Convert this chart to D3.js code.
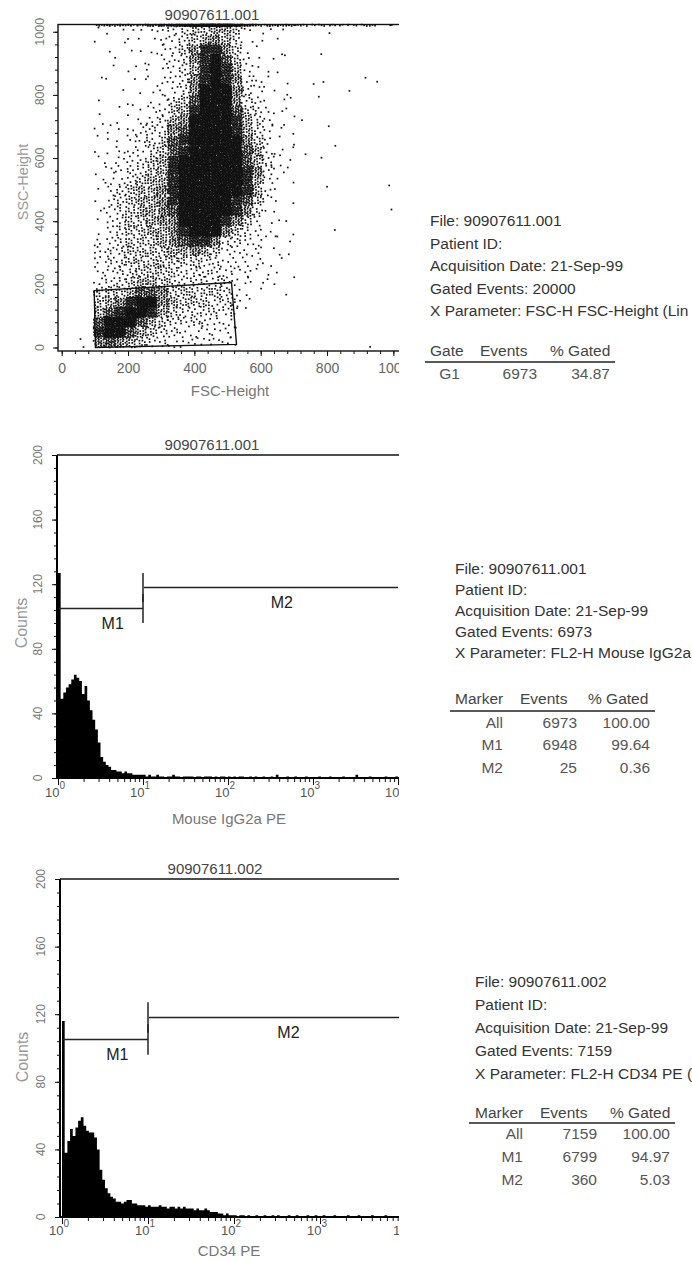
<!DOCTYPE html>
<html>
<head>
<meta charset="utf-8">
<script src="https://cdn.jsdelivr.net/npm/d3@7"></script>
<style>
  body { margin: 0; background: #fff; }
  svg { display: block; }
  text { font-family: "Liberation Sans", Arial, sans-serif; }
</style>
</head>
<body>
<svg width="692" height="1262"></svg>
<script>
var svg = d3.select('svg');

// ---------- values ----------

// FSC / SSC dot plot
var scatterFile = '90907611.001';
var scatterTicks = [0, 200, 400, 600, 800, 1000];
// dot density, 32 x 32 cells of 32 channels; first row = SSC 992-1023,
// first column = FSC 0-31; level 0..9
var scatterLevels = [
  "0001 1111 1233 4455 4211 1010 0100 0000",
  "0001 0111 1223 4565 3110 1000 0000 0000",
  "0000 1011 1224 6886 4110 1000 1000 0000",
  "0000 0101 1223 6897 4211 0100 0000 0000",
  "0000 1011 1123 5898 5211 1000 0000 0000",
  "0001 1011 1223 6898 6221 0101 1000 1100",
  "0000 0101 1223 6999 6321 1100 0001 0000",
  "0001 0010 1234 7999 6321 1100 1000 0000",
  "0001 0111 2245 8999 7432 1100 0000 0000",
  "0001 1112 2356 9999 8532 1110 0000 0000",
  "0001 1122 3367 9999 8532 1100 0100 0000",
  "0001 1122 3478 9999 9642 1100 0000 0000",
  "0001 1222 3478 9999 9752 2110 0100 0000",
  "0001 1223 4589 9999 9753 1100 1000 0000",
  "0001 2233 4589 9999 9863 1100 0000 0000",
  "0001 2234 5589 9999 9852 1100 0000 0010",
  "0001 2345 5689 9999 9852 1000 0100 0000",
  "0001 2345 5689 9999 8741 1100 0000 0000",
  "0001 2345 5679 9999 8631 1000 0000 0001",
  "0001 2344 5669 9998 6421 1100 0000 0000",
  "0001 2344 5568 9996 4321 1100 0100 0000",
  "0002 2344 4567 8863 3221 1100 0000 0000",
  "0002 3344 4455 6542 2221 1100 0000 0000",
  "0002 3344 4444 4332 2221 1000 0000 0000",
  "0002 2334 4443 3332 2211 1000 0000 0000",
  "0002 3345 5433 3333 2211 1100 0000 0000",
  "0004 4457 7644 4443 2110 0100 0000 0000",
  "0004 5689 9654 4433 3100 0000 0000 0000",
  "0005 7899 8543 3333 2100 0000 0000 0000",
  "0007 9997 5433 3322 1000 0000 0000 0000",
  "0008 9975 4332 2222 1000 0000 0000 0000",
  "0116 7654 3322 2222 1000 0000 0000 0100"
];
// events piled up on the SSC 1023 edge, per FSC column
var topEdgeLevels = "0002 3333 4567 8999 7533 3322 2222 2211";
var levelDots = [0, 1, 3, 6, 10, 15, 22, 32, 48, 80];
var gateG1 = [[98, 180], [512, 206], [527, 10], [102, 0]];

// histograms, 32 bins per decade from 10^0 to 10^4
var isoFile = '90907611.001';
var isoCounts = [
  127, 49, 53, 56, 58, 61, 64, 62, 60, 52, 57, 48, 42, 36, 30, 22,
  13, 10, 8, 7, 5, 5, 4, 4, 3, 4, 3, 3, 2, 2, 2, 2,
  2, 1, 2, 1, 1, 2, 1, 1, 0, 1, 1, 2, 1, 1, 0, 1,
  1, 1, 1, 0, 1, 1, 0, 1, 1, 1, 0, 1, 0, 1, 1, 0,
  1, 0, 1, 0, 1, 1, 0, 0, 1, 0, 1, 0, 0, 1, 0, 0,
  1, 0, 2, 0, 0, 0, 1, 0, 0, 1, 0, 0, 0, 1, 0, 0,
  0, 0, 1, 0, 0, 0, 1, 0, 0, 0, 0, 1, 0, 0, 0, 0,
  2, 0, 0, 0, 0, 1, 0, 0, 0, 0, 0, 1, 0, 0, 0, 1
];
var cd34File = '90907611.002';
var cd34Counts = [
  116, 38, 45, 52, 48, 53, 57, 59, 54, 51, 50, 50, 47, 40, 28, 22,
  17, 14, 12, 11, 9, 9, 8, 9, 10, 10, 8, 8, 7, 7, 7, 6,
  7, 6, 6, 6, 7, 6, 6, 5, 6, 6, 5, 6, 5, 6, 5, 5,
  5, 4, 5, 4, 4, 5, 4, 3, 3, 3, 2, 2, 1, 2, 1, 1,
  1, 0, 1, 1, 0, 1, 0, 0, 1, 0, 0, 1, 0, 0, 1, 0,
  1, 0, 0, 0, 1, 0, 0, 1, 0, 0, 0, 1, 0, 0, 1, 0,
  0, 1, 0, 0, 0, 1, 0, 0, 0, 0, 1, 0, 0, 0, 1, 0,
  0, 0, 0, 1, 0, 0, 0, 0, 1, 0, 0, 0, 0, 0, 1, 0
];
var countTicks = [0, 40, 80, 120, 160, 200];
var decades = [0, 1, 2, 3, 4];
var markers = [
  { name: 'M1', from: 1, to: 10, level: 105, labelAt: 4.4 },
  { name: 'M2', from: 10, to: 10000, level: 118, labelAt: 430 }
];
var markerBar = 9; // half height of the end bars, counts

// statistics text
var info1 = ['File: 90907611.001', 'Patient ID:', 'Acquisition Date: 21-Sep-99',
  'Gated Events: 20000', 'X Parameter: FSC-H FSC-Height (Lin'];
var info2 = ['File: 90907611.001', 'Patient ID:', 'Acquisition Date: 21-Sep-99',
  'Gated Events: 6973', 'X Parameter: FL2-H Mouse IgG2a'];
var info3 = ['File: 90907611.002', 'Patient ID:', 'Acquisition Date: 21-Sep-99',
  'Gated Events: 7159', 'X Parameter: FL2-H CD34 PE ('];
var gateHeader = ['Gate', 'Events', '% Gated'];
var gateRows = [['G1', '6973', '34.87']];
var markerHeader = ['Marker', 'Events', '% Gated'];
var isoRows = [['All', '6973', '100.00'], ['M1', '6948', '99.64'], ['M2', '25', '0.36']];
var cd34Rows = [['All', '7159', '100.00'], ['M1', '6799', '94.97'], ['M2', '360', '5.03']];

// ---------- drawing ----------

// the scan is cut off at the right edge of the plots
svg.append('defs').append('clipPath').attr('id', 'cut')
  .append('rect').attr('x', 0).attr('y', 0).attr('width', 399).attr('height', 1262);

function styleAxis(sel) {
  sel.select('.domain').remove();
  sel.selectAll('line').attr('stroke', '#111').attr('stroke-width', 1);
}

// fixed per-cell offset so neighbouring cells do not line up
function cellOffset(n, s) {
  var v = Math.sin(n * 12.9898 + s * 78.233) * 43758.5453;
  return v - Math.floor(v);
}

function drawScatter() {
  var g = svg.append('g').attr('clip-path', 'url(#cut)');
  var x = d3.scaleLinear().domain([0, 1023]).range([61.7, 401]);
  var y = d3.scaleLinear().domain([0, 1023]).range([347.5, 24.5]);
  var frameLeft = 58, frameBottom = 351;

  // spread the dots of each density cell on an R2 low-discrepancy lattice
  var a1 = 0.7548776662466927, a2 = 0.5698402909980532;
  var dots = [];
  function fillCell(cell, n, cx, top, h) {
    var u0 = cellOffset(cell, 1), v0 = cellOffset(cell, 2);
    for (var k = 0; k < n; k++) {
      var u = (u0 + k * a1) % 1, v = (v0 + k * a2) % 1;
      dots.push([cx + u * 32, top - v * h]);
    }
  }
  scatterLevels.forEach(function (row, r) {
    var lv = row.replace(/ /g, '');
    for (var c = 0; c < 32; c++) fillCell(r * 32 + c, levelDots[+lv[c]], c * 32, 1024 - 32 * r, 32);
  });
  var edge = topEdgeLevels.replace(/ /g, '');
  for (var c = 0; c < 32; c++) fillCell(5000 + c, levelDots[+edge[c]], c * 32, 1023, 5);

  g.selectAll('rect.dot').data(dots).enter().append('rect')
    .attr('class', 'dot')
    .attr('x', function (d) { return x(d[0]) - 0.85; })
    .attr('y', function (d) { return y(d[1]) - 0.85; })
    .attr('width', 1.7).attr('height', 1.7)
    .attr('fill', '#111');

  // gate G1
  g.append('path').datum(gateG1)
    .attr('fill', 'none').attr('stroke', '#111').attr('stroke-width', 1.4)
    .attr('d', d3.line().x(function (d) { return x(d[0]); }).y(function (d) { return y(d[1]); })
      .curve(d3.curveLinearClosed));

  // frame
  g.append('rect')
    .attr('x', frameLeft).attr('y', y(1023))
    .attr('width', x(1023) - frameLeft).attr('height', frameBottom - y(1023))
    .attr('fill', 'none').attr('stroke', '#111').attr('stroke-width', 1.4);

  // axes
  g.append('g').attr('transform', 'translate(0,' + frameBottom + ')')
    .call(d3.axisBottom(x).tickValues(d3.range(0, 1024, 40)).tickSize(3).tickFormat(''))
    .call(styleAxis);
  g.append('g').attr('transform', 'translate(0,' + frameBottom + ')')
    .call(d3.axisBottom(x).tickValues(scatterTicks).tickSize(5).tickPadding(7)
      .tickFormat(d3.format('d')))
    .call(styleAxis)
    .selectAll('text').style('font-size', '14px').attr('fill', '#666')
    .style('font-family', '"Liberation Sans", Arial, sans-serif');
  g.append('g').attr('transform', 'translate(' + frameLeft + ',0)')
    .call(d3.axisLeft(y).tickValues(d3.range(0, 1024, 40)).tickSize(3).tickFormat(''))
    .call(styleAxis);
  g.append('g').attr('transform', 'translate(' + frameLeft + ',0)')
    .call(d3.axisLeft(y).tickValues(scatterTicks).tickSize(5).tickFormat(''))
    .call(styleAxis);

  g.selectAll('text.ytick').data(scatterTicks).enter().append('text')
    .attr('class', 'ytick')
    .attr('transform', function (d) { return 'translate(40,' + y(d) + ') rotate(-90)'; })
    .attr('text-anchor', 'middle').attr('dy', '0.35em')
    .style('font-size', '12.5px').attr('fill', '#777')
    .text(function (d) { return d; });

  g.append('text').attr('x', 212).attr('y', 19.5).attr('text-anchor', 'middle')
    .style('font-size', '15px').attr('fill', '#444').text(scatterFile);
  g.append('text').attr('x', 230).attr('y', 395.5).attr('text-anchor', 'middle')
    .style('font-size', '15px').attr('fill', '#777').text('FSC-Height');
  g.append('text').attr('transform', 'translate(23,182) rotate(-90)')
    .attr('text-anchor', 'middle').attr('dy', '0.35em')
    .style('font-size', '14.5px').attr('fill', '#999').text('SSC-Height');
}

function drawHistogram(cfg, file, counts, xTitle) {
  var g = svg.append('g').attr('clip-path', 'url(#cut)');
  var x = d3.scaleLog().domain([1, 1e4]).range(cfg.xRange);
  var y = d3.scaleLinear().domain([0, 200]).range(cfg.yRange);
  var base = cfg.yRange[0], top = cfg.yRange[1];

  var bins = counts.map(function (c, i) { return [Math.pow(10, i / 32), c]; });
  bins.push([1e4, counts[counts.length - 1]]);
  g.append('path').datum(bins)
    .attr('fill', '#000')
    .attr('d', d3.area().curve(d3.curveStepAfter)
      .x(function (d) { return x(d[0]); })
      .y0(y(0))
      .y1(function (d) { return y(d[1]); }));

  // frame: left axis, base line and top line
  g.append('line').attr('x1', cfg.frameLeft).attr('x2', cfg.frameLeft)
    .attr('y1', top).attr('y2', base + 1)
    .attr('stroke', '#000').attr('stroke-width', 2);
  g.append('line').attr('x1', cfg.frameLeft).attr('x2', 420)
    .attr('y1', base).attr('y2', base)
    .attr('stroke', '#000').attr('stroke-width', 2);
  g.append('line').attr('x1', cfg.frameLeft).attr('x2', 420)
    .attr('y1', top).attr('y2', top)
    .attr('stroke', '#111').attr('stroke-width', 1.4);

  // log x ticks
  var minor = [];
  [0, 1, 2, 3].forEach(function (d) {
    d3.range(2, 10).forEach(function (m) { minor.push(m * Math.pow(10, d)); });
  });
  g.append('g').attr('transform', 'translate(0,' + (base + 1) + ')')
    .call(d3.axisBottom(x).tickValues(minor).tickSize(3).tickFormat(''))
    .call(styleAxis);
  g.append('g').attr('transform', 'translate(0,' + (base + 1) + ')')
    .call(d3.axisBottom(x).tickValues(decades.map(function (d) { return Math.pow(10, d); }))
      .tickSize(6).tickFormat(''))
    .call(styleAxis);

  var dec = g.selectAll('text.dec').data(decades).enter().append('text')
    .attr('class', 'dec')
    .attr('x', function (d) { return x(Math.pow(10, d)) - 3; })
    .attr('y', base + cfg.tickGap)
    .attr('text-anchor', 'middle')
    .style('font-size', '13px').attr('fill', '#555');
  dec.append('tspan').text('10');
  dec.append('tspan').style('font-size', '10px').attr('dy', -8)
    .text(function (d) { return d; });

  // count axis
  g.append('g').attr('transform', 'translate(' + cfg.frameLeft + ',0)')
    .call(d3.axisLeft(y).tickValues(d3.range(0, 201, 8)).tickSize(3).tickFormat(''))
    .call(styleAxis);
  g.append('g').attr('transform', 'translate(' + cfg.frameLeft + ',0)')
    .call(d3.axisLeft(y).tickValues(countTicks).tickSize(5).tickFormat(''))
    .call(styleAxis);
  g.selectAll('text.ytick').data(countTicks).enter().append('text')
    .attr('class', 'ytick')
    .attr('transform', function (d) { return 'translate(' + cfg.yLabelX + ',' + y(d) + ') rotate(-90)'; })
    .attr('text-anchor', 'middle').attr('dy', '0.35em')
    .style('font-size', '12px').attr('fill', '#777')
    .text(function (d) { return d; });

  // markers; end bars at the ends of the scale are not drawn
  markers.forEach(function (m) {
    var mg = g.append('g').attr('stroke', '#222').attr('stroke-width', 1.5);
    mg.append('line').attr('x1', x(m.from) + 1).attr('x2', x(m.to))
      .attr('y1', y(m.level)).attr('y2', y(m.level));
    [m.from, m.to].filter(function (v) { return v > 1 && v < 1e4; }).forEach(function (v) {
      mg.append('line').attr('x1', x(v)).attr('x2', x(v))
        .attr('y1', y(m.level + markerBar)).attr('y2', y(m.level - markerBar));
    });
    g.append('text').attr('x', x(m.labelAt)).attr('y', y(m.level) + 20.5)
      .attr('text-anchor', 'middle').style('font-size', '16px').attr('fill', '#222')
      .text(m.name);
  });

  g.append('text').attr('x', cfg.titleX).attr('y', top - 5.5).attr('text-anchor', 'middle')
    .style('font-size', '15px').attr('fill', '#444').text(file);
  g.append('text').attr('x', 229).attr('y', cfg.xTitleY).attr('text-anchor', 'middle')
    .style('font-size', '15px').attr('fill', '#777').text(xTitle);
  g.append('text').attr('transform', 'translate(' + cfg.countsX + ',' + cfg.countsY + ') rotate(-90)')
    .attr('text-anchor', 'middle').attr('dy', '0.35em')
    .style('font-size', '16px').attr('fill', '#999').text('Counts');
}

function drawInfo(cfg, lines, header, rows) {
  var g = svg.append('g').style('font-size', '15.5px');
  g.selectAll('text.line').data(lines).enter().append('text')
    .attr('class', 'line')
    .attr('x', cfg.x)
    .attr('y', function (d, i) { return cfg.y0 + i * cfg.step; })
    .attr('fill', '#333')
    .text(function (d) { return d; });
  g.selectAll('text.head').data(header).enter().append('text')
    .attr('class', 'head')
    .attr('x', function (d, i) { return cfg.headX[i]; })
    .attr('y', cfg.headY)
    .attr('fill', '#444')
    .text(function (d) { return d; });
  g.append('line')
    .attr('x1', cfg.rule[0]).attr('x2', cfg.rule[1])
    .attr('y1', cfg.ruleY).attr('y2', cfg.ruleY)
    .attr('stroke', '#222').attr('stroke-width', 1.6);
  rows.forEach(function (row, r) {
    g.selectAll('text.row' + r).data(row).enter().append('text')
      .attr('class', 'row' + r)
      .attr('x', function (d, i) { return cfg.valX[i]; })
      .attr('y', cfg.rowY + r * cfg.rowStep)
      .attr('text-anchor', 'end')
      .attr('fill', '#555')
      .text(function (d) { return d; });
  });
}

drawScatter();

drawHistogram({ frameLeft: 57, xRange: [58, 398], yRange: [778, 455], titleX: 212,
  tickGap: 19, xTitleY: 824, yLabelX: 38, countsX: 21, countsY: 623 },
  isoFile, isoCounts, 'Mouse IgG2a PE');

drawHistogram({ frameLeft: 60, xRange: [62, 406], yRange: [1217, 879], titleX: 215,
  tickGap: 18, xTitleY: 1256, yLabelX: 41, countsX: 22, countsY: 1057 },
  cd34File, cd34Counts, 'CD34 PE');

drawInfo({ x: 430, y0: 226, step: 22.5, headX: [430, 480, 550], headY: 355.5,
  rule: [425, 615], ruleY: 362, valX: [460, 537, 610], rowY: 378.5, rowStep: 22 },
  info1, gateHeader, gateRows);

drawInfo({ x: 455, y0: 574, step: 21, headX: [455, 520, 588], headY: 703.5,
  rule: [450, 655], ruleY: 711, valX: [503, 577, 650], rowY: 727.5, rowStep: 22.5 },
  info2, markerHeader, isoRows);

drawInfo({ x: 475, y0: 987, step: 23, headX: [475, 540, 610], headY: 1118,
  rule: [469, 675], ruleY: 1123, valX: [523, 597, 670], rowY: 1139, rowStep: 23 },
  info3, markerHeader, cd34Rows);
</script>
</body>
</html>
